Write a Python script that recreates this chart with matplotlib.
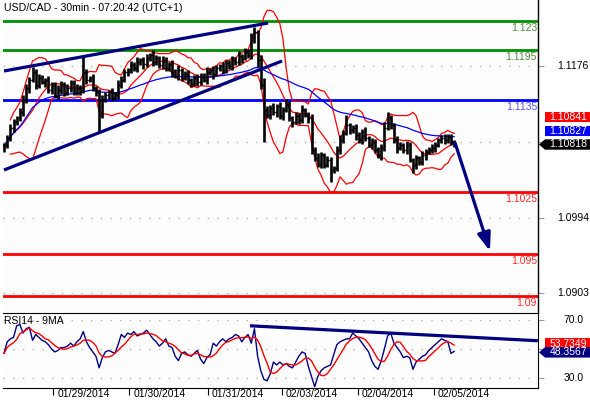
import numpy as np
import pandas as pd
import matplotlib
matplotlib.use('Agg')
import matplotlib.pyplot as plt
from matplotlib.patches import Polygon
from matplotlib.transforms import blended_transform_factory

plt.rcParams['font.family'] = ['Liberation Sans', 'DejaVu Sans']

# USD/CAD closes, one per hour
closes = [1.10812, 1.10896, 1.11016, 1.11088, 1.11136, 1.11208, 1.11352, 1.11496, 1.11592, 1.11688,
          1.11532, 1.11616, 1.11568, 1.11592, 1.11472, 1.11532, 1.11400, 1.11472, 1.11544, 1.11436,
          1.11496, 1.11556, 1.11448, 1.11496, 1.11472, 1.11688, 1.11592, 1.11616, 1.11496, 1.11448,
          1.11172, 1.11352, 1.11412, 1.11448, 1.11376, 1.11412, 1.11532, 1.11592, 1.11688, 1.11712,
          1.11772, 1.11736, 1.11808, 1.11832, 1.11784, 1.11856, 1.11892, 1.11808, 1.11856, 1.11772,
          1.11832, 1.11736, 1.11784, 1.11688, 1.11640, 1.11712, 1.11616, 1.11664, 1.11592, 1.11544,
          1.11616, 1.11568, 1.11640, 1.11592, 1.11688, 1.11712, 1.11664, 1.11736, 1.11760, 1.11712,
          1.11796, 1.11760, 1.11832, 1.11808, 1.11880, 1.11856, 1.11928, 1.11892, 1.12072, 1.12168,
          1.11832, 1.11532, 1.11232, 1.11172, 1.11256, 1.11208, 1.11280, 1.11160, 1.11232, 1.11304,
          1.11136, 1.11088, 1.11160, 1.11112, 1.11232, 1.11172, 1.11136, 1.10752, 1.10656, 1.10584,
          1.10692, 1.10572, 1.10632, 1.10512, 1.10536, 1.10752, 1.10872, 1.10956, 1.11052, 1.10992,
          1.11016, 1.10932, 1.10872, 1.10968, 1.10896, 1.10812, 1.10848, 1.10752, 1.10692, 1.10776,
          1.11016, 1.11136, 1.11052, 1.10872, 1.10776, 1.10812, 1.10752, 1.10812, 1.10632, 1.10572,
          1.10656, 1.10608, 1.10692, 1.10728, 1.10752, 1.10776, 1.10812, 1.10872, 1.10896, 1.10872,
          1.10908, 1.10848, 1.10818]
# wick sizes above / below the body, in pips
wick_up = [3, 4, 5, 4, 3, 5, 6, 5, 4, 6, 3, 5, 4, 3, 5, 4, 3, 6, 4, 3,
           5, 4, 3, 5, 4, 8, 4, 3, 5, 3, 4, 6, 4, 3, 5, 4, 6, 5, 4, 3,
           5, 4, 6, 3, 4, 5, 3, 6, 4, 3, 5, 4, 3, 5, 4, 6, 3, 4, 5, 3,
           4, 5, 3, 4, 6, 3, 5, 4, 3, 5, 4, 3, 5, 4, 6, 3, 5, 4, 8, 4,
           3, 6, 8, 5, 4, 6, 3, 5, 4, 6, 4, 3, 5, 4, 6, 3, 4, 5, 3, 6,
           4, 3, 5, 4, 3, 5, 6, 4, 5, 3, 4, 5, 3, 4, 6, 3, 5, 4, 3, 5,
           7, 5, 4, 3, 5, 4, 3, 5, 4, 3, 4, 3, 5, 4, 3, 5, 4, 3, 4, 5,
           3, 4, 3]
wick_dn = [5, 4, 3, 5, 4, 3, 5, 4, 6, 3, 5, 4, 3, 6, 4, 5, 3, 4, 5, 4,
           3, 5, 4, 3, 6, 4, 5, 3, 4, 5, 6, 4, 3, 5, 4, 3, 5, 4, 3, 5,
           4, 3, 5, 4, 6, 3, 4, 5, 3, 4, 5, 3, 4, 6, 3, 5, 4, 3, 5, 4,
           3, 5, 4, 3, 5, 4, 6, 3, 4, 5, 3, 4, 5, 3, 4, 6, 3, 4, 5, 3,
           8, 5, 6, 4, 5, 3, 6, 4, 5, 3, 4, 6, 3, 5, 4, 3, 6, 5, 4, 3,
           5, 4, 3, 6, 4, 3, 5, 4, 3, 5, 4, 6, 3, 5, 4, 3, 5, 4, 3, 6,
           4, 3, 5, 4, 6, 3, 4, 5, 3, 4, 5, 3, 4, 6, 3, 4, 5, 3, 4, 5,
           3, 4, 3]
# long wicks
spike_idx = [0, 25, 30, 79, 82, 103, 108, 121, 129]
spike_px = [1.10728, 1.11868, 1.10968, 1.12228, 1.10848, 1.10368, 1.11172, 1.11208, 1.10476]

rsi = [47, 55, 57, 58, 66, 67, 61, 64, 65, 56, 60, 58, 56, 55, 53, 50, 48, 49, 51, 51,
       52, 54, 52, 55, 57, 62, 55, 51, 48, 45, 37, 44, 48, 49, 48, 47, 53, 60, 58, 61,
       60, 62, 59, 60, 61, 63, 60, 57, 55, 52, 54, 57, 52, 51, 45, 42, 47, 48, 46, 45,
       47, 49, 43, 40, 44, 46, 54, 52, 55, 57, 55, 57, 58, 60, 59, 55, 58, 60, 54, 64,
       45, 35, 29, 28, 33, 41, 39, 41, 39, 40, 38, 37, 41, 45, 48, 47, 38, 31, 24, 31,
       35, 37, 38, 39, 46, 53, 55, 56, 57, 57, 61, 59, 57, 54, 51, 48, 42, 38, 36, 42,
       50, 59, 61, 54, 51, 48, 44, 45, 44, 36, 41, 43, 45, 46, 49, 51, 53, 55, 57, 56,
       55, 47, 48.36]

levels = [1.123, 1.1195, 1.1135, 1.1025, 1.095, 1.09]
level_labels = ['1.123', '1.1195', '1.1135', '1.1025', '1.095', '1.09']
level_colors = ['#009000', '#009000', '#0000ff', '#ff0000', '#ff0000', '#ff0000']
level_text_colors = ['#4e8a3e', '#4e8a3e', '#5555ff', '#ff2a2a', '#ff2a2a', '#ff2a2a']

price_ticks = [1.0903, 1.0994, 1.1085, 1.1176]
price_tick_labels = ['1.0903', '1.0994', '', '1.1176']
rsi_ticks = [30, 50, 70]
rsi_tick_labels = ['30.0', '', '70.0']

date_pos = [15.5, 39.5, 64.2, 87.6, 111.7, 135.6]
date_labels = ['01/29/2014', '01/30/2014', '01/31/2014', '02/03/2014', '02/04/2014', '02/05/2014']

upper_chan = ([0, 83.3], [1.1170, 1.12276])
lower_chan = ([0, 87.7], [1.10512, 1.1182])
down_arrow = ([142.3, 153.3], [1.10836, 1.0954])
rsi_trend = ([77.6, 168.4], [66.0, 55.7])

price_tags = [1.10841, 1.10827, 1.10818]
rsi_tags = [53.7349, 48.3567]

W, H = 590.0, 400.0
NAVY = '#000080'
GRID = '#b4b4b4'
PIP = 0.0001

fig = plt.figure(figsize=(W / 100, H / 100), dpi=100, facecolor='white')
ax = fig.add_axes([3 / W, 1 - 313 / H, 535 / W, 313 / H], facecolor='#fcfdfc')
ax2 = fig.add_axes([3 / W, 1 - 388 / H, 535 / W, 75 / H], facecolor='#fcfdfc')

xlim = (-0.32, 168.45)

# ---- price panel
x = np.arange(len(closes))
c = np.array(closes)
o = np.r_[c[0], c[:-1]]
hi = np.maximum(o, c) + np.array(wick_up) * PIP
lo = np.minimum(o, c) - np.array(wick_dn) * PIP
for k, p in zip(spike_idx, spike_px):
    if p > hi[k]:
        hi[k] = p
    else:
        lo[k] = min(lo[k], p)

s = pd.Series(c)
mid = s.rolling(10, min_periods=3).mean()
sd = s.rolling(10, min_periods=3).std()
ma = s.ewm(span=50).mean()

for yv in price_ticks:
    ax.axhline(yv, color=GRID, lw=1, ls=(0, (1, 6)), zorder=1)

for lv, col in zip(levels, level_colors):
    ax.axhline(lv, color=col, lw=2, zorder=2)

ax.plot(x, mid + 2 * sd, color='#ff0000', lw=0.9, zorder=3)
ax.plot(x, mid, color='#ff0000', lw=0.9, zorder=3)
ax.plot(x, mid - 2 * sd, color='#ff0000', lw=0.9, zorder=3)
ax.plot(x, ma, color='#0000ff', lw=0.9, zorder=3)

ax.vlines(x, lo, hi, color='black', lw=1.9, zorder=4)
ax.hlines(o, x - 0.55, x, color='black', lw=1, zorder=4)
ax.hlines(c, x, x + 0.55, color='black', lw=1, zorder=4)

ax.plot(*upper_chan, color=NAVY, lw=2.3, zorder=5, solid_capstyle='butt')
ax.plot(*lower_chan, color=NAVY, lw=2.3, zorder=5, solid_capstyle='butt')
ax.annotate('', xy=(down_arrow[0][1], down_arrow[1][1]), xytext=(down_arrow[0][0], down_arrow[1][0]),
            arrowprops=dict(arrowstyle='-|>,head_length=0.6,head_width=0.22', mutation_scale=18,
                            color=NAVY, lw=2.3, shrinkA=0, shrinkB=0), zorder=6)

for lv, lab, col in zip(levels, level_labels, level_text_colors):
    ax.annotate(lab, xy=(1, lv), xycoords=blended_transform_factory(ax.transAxes, ax.transData),
                xytext=(-1, -7), textcoords='offset pixels', ha='right', va='center',
                fontsize=7.5, color=col)

ax.set_xlim(*xlim)
ax.set_ylim(1.08796, 1.12552)
ax.set_xticks([])
ax.yaxis.tick_right()
ax.set_yticks(price_ticks)
ax.set_yticklabels([])
ax.tick_params(axis='y', length=4, color='#999999')
for yv, lab in zip(price_ticks, price_tick_labels):
    ax.annotate(lab, xy=(1, yv), xycoords=blended_transform_factory(ax.transAxes, ax.transData),
                xytext=(35, 0), textcoords='offset pixels', ha='center', va='center', fontsize=7.5)
for sp in ['left', 'top', 'bottom']:
    ax.spines[sp].set_visible(False)
ax.spines['right'].set_linewidth(1)

ax.text(1 / 535, 1 - 8 / 313, 'USD/CAD - 30min - 07:20:42 (UTC+1)', transform=ax.transAxes,
        ha='left', va='center', fontsize=7.6)

# ---- RSI panel
r = pd.Series(rsi)
rma = r.rolling(5, min_periods=1).mean()
xr = np.arange(len(rsi))

for yv in rsi_ticks:
    ax2.axhline(yv, color=GRID, lw=1, ls=(0, (1, 6)), zorder=1)
ax2.plot(xr, r, color=NAVY, lw=1, zorder=3)
ax2.plot(xr, rma, color='#ff0000', lw=1, zorder=4)
ax2.plot(*rsi_trend, color=NAVY, lw=2.3, zorder=5, solid_capstyle='butt')

ax2.set_xlim(*xlim)
ax2.set_ylim(23.1, 74.83)
ax2.yaxis.tick_right()
ax2.set_yticks(rsi_ticks)
ax2.set_yticklabels([])
ax2.tick_params(axis='y', length=4, color='#999999')
for yv, lab in zip(rsi_ticks, rsi_tick_labels):
    ax2.annotate(lab, xy=(1, yv), xycoords=blended_transform_factory(ax2.transAxes, ax2.transData),
                 xytext=(36, 0), textcoords='offset pixels', ha='center', va='center', fontsize=7.5)
ax2.set_xticks(date_pos)
ax2.set_xticklabels([])
ax2.tick_params(axis='x', length=5, color='black', direction='out')
for xp, lab in zip(date_pos, date_labels):
    ax2.annotate(lab, xy=(xp, 0), xycoords=blended_transform_factory(ax2.transData, ax2.transAxes),
                 xytext=(4, -6), textcoords='offset pixels', ha='left', va='center', fontsize=7.5)
ax2.spines['left'].set_visible(False)
ax2.text(1 / 535, 1 - 8 / 75, 'RSI14 - 9MA', transform=ax2.transAxes, ha='left', va='center', fontsize=7.5)


# ---- value tags on the right
def tag(axis, value, shift, color, arrow):
    y = (axis.transData.transform((0, value))[1] + shift) / H
    h = 5.2 / H
    x0, x1, x2 = 539 / W, 545 / W, 1.0
    if arrow:
        pts = [(x0, y), (x1, y + h), (x2, y + h), (x2, y - h), (x1, y - h)]
    else:
        pts = [(x1, y + h), (x2, y + h), (x2, y - h), (x1, y - h)]
    fig.add_artist(Polygon(pts, closed=True, transform=fig.transFigure, facecolor=color,
                           edgecolor='none', zorder=5))
    return y


base = price_tags[-1]
yy = tag(ax, base, 0, 'black', True)
fig.text(568 / W, yy, f'{price_tags[2]:.5f}', color='white', ha='center', va='center', fontsize=7.5, zorder=6)
for val, shift, col in [(price_tags[1], 13.5, '#0000ff'), (price_tags[0], 27.5, '#ff0000')]:
    yy = tag(ax, base, shift, col, False)
    fig.text(568 / W, yy, f'{val:.5f}', color='white', ha='center', va='center', fontsize=7.5, zorder=6)

yy = tag(ax2, rsi_tags[0], 0, '#ff0000', False)
fig.text(568 / W, yy, f'{rsi_tags[0]:.4f}', color='white', ha='center', va='center', fontsize=7.5, zorder=6)
yy = tag(ax2, rsi_tags[1], -1, NAVY, True)
fig.text(568 / W, yy, f'{rsi_tags[1]:.4f}', color='white', ha='center', va='center', fontsize=7.5, zorder=6)

fig.savefig('out.png', dpi=100, facecolor='white')
